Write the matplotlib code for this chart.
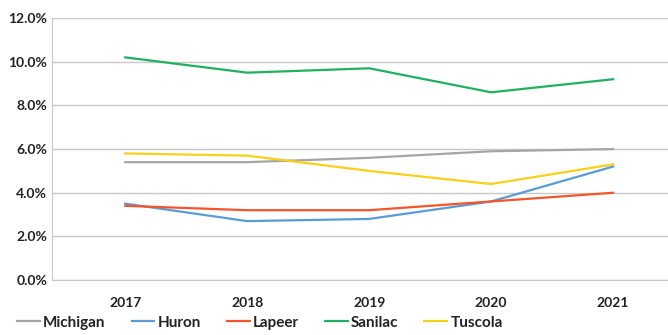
import matplotlib.pyplot as plt
from matplotlib.ticker import FuncFormatter

plt.rcParams['font.family'] = ['Lato', 'DejaVu Sans']

years = ['2017', '2018', '2019', '2020', '2021']
michigan = [5.4, 5.4, 5.6, 5.9, 6.0]
huron = [3.5, 2.7, 2.8, 3.6, 5.2]
lapeer = [3.4, 3.2, 3.2, 3.6, 4.0]
sanilac = [10.2, 9.5, 9.7, 8.6, 9.2]
tuscola = [5.8, 5.7, 5.0, 4.4, 5.3]

series = [
    ('Michigan', michigan, '#a5a5a5'),
    ('Huron', huron, '#5b9bd5'),
    ('Lapeer', lapeer, '#f4552b'),
    ('Sanilac', sanilac, '#1fb25e'),
    ('Tuscola', tuscola, '#f9d01a'),
]

fig = plt.figure(figsize=(6.68, 3.35), dpi=100)
ax = fig.add_axes([0.078, 0.164, 0.922, 0.782])

x = range(len(years))
for name, vals, col in series:
    ax.plot(x, vals, color=col, lw=1.6, label=name)

ax.set_xlim(-0.6, 4.45)
ax.set_ylim(0, 12)
ax.set_yticks([0, 2, 4, 6, 8, 10, 12])
ax.yaxis.set_major_formatter(FuncFormatter(lambda v, p: f'{v:.1f}%'))
ax.set_xticks(list(x))
ax.set_xticklabels(years)
ax.grid(axis='y', color='#c8c8c8', lw=1)
ax.set_axisbelow(True)
for s in ['top', 'right']:
    ax.spines[s].set_visible(False)
for s in ['left', 'bottom']:
    ax.spines[s].set_color('#c8c8c8')
ax.tick_params(length=0, labelsize=10)
ax.tick_params(axis='x', pad=12)
for lab in ax.get_xticklabels() + ax.get_yticklabels():
    lab.set_fontweight('bold')
    lab.set_color('#222222')

leg = fig.legend(loc='lower left', bbox_to_anchor=(0.005, -0.025), ncol=5,
                 frameon=False, handlelength=1.5, handletextpad=0.2,
                 columnspacing=1.7, prop={'weight': 'bold', 'size': 11})
for t in leg.get_texts():
    t.set_color('#222222')

fig.savefig('out.png', dpi=100)
